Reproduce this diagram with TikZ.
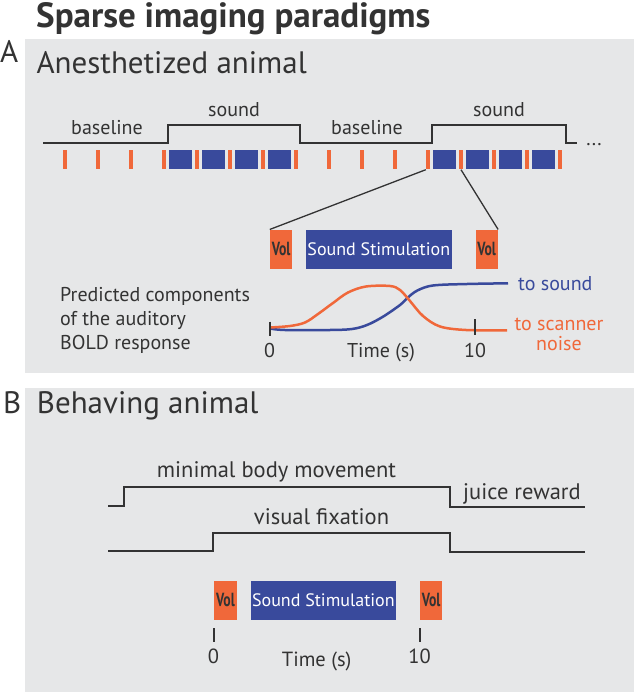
\documentclass[tikz,border=0pt]{standalone}
\usepackage{fontspec}
\setmainfont{PT Sans}
\usetikzlibrary{calc}
\definecolor{boxgray}{RGB}{230,231,232}
\definecolor{ink}{RGB}{51,51,51}
\definecolor{orng}{RGB}{240,104,58}
\definecolor{blu}{RGB}{57,74,156}
\newcommand\fsz[2]{\fontsize{#1}{#2}\selectfont}
\begin{document}
\begin{tikzpicture}[x=1pt,y=-1pt,
  txt/.style={inner sep=0, text=ink},
  t20/.style={txt, font=\fsz{20}{24}},
  t22/.style={txt, font=\fsz{22.5}{27}},
  head/.style={txt, font=\fsz{31}{36}},
  trace/.style={draw=ink, line width=2pt},
  zoomline/.style={draw=ink, line width=1.3pt},
  tickmark/.style={fill=orng, inner sep=0, minimum width=4pt, minimum height=19.5pt},
  blk/.style={fill=blu, inner sep=0, minimum width=23pt, minimum height=19.5pt},
  volbox/.style={fill=orng, inner sep=0, minimum width=22.4pt, minimum height=39.5pt, text=ink, font=\fsz{19}{21}\bfseries},
  stimbox/.style={fill=blu, inner sep=0, minimum width=145.5pt, minimum height=39.5pt, text=white, font=\fsz{18}{21}},
  axtick/.style={draw=ink, line width=2pt},
  curveO/.style={draw=orng, line width=2.5pt},
  curveB/.style={draw=blu, line width=2.5pt}
]
\useasboundingbox (0,0) rectangle (634,692);
\fill[white] (0,0) rectangle (634,692);
\fill[boxgray] (25,39) rectangle (634,372.7);
\fill[boxgray] (25,388.3) rectangle (634,692);

% titles
\node[txt, anchor=base west, font=\fsz{35}{40}\bfseries] (title) at (36,28) {Sparse imaging paradigms};
\node[head, anchor=base west] (labA) at (0,63) {A};
\node[head, anchor=base west] (headA) at (36.4,74) {Anesthetized animal};
\node[head, anchor=base west] (labB) at (3,413) {B};
\node[head, anchor=base west] (headB) at (36.7,413) {Behaving animal};

% panel A timeline
\draw[trace] (43,143.3) -- (168,143.3) -- (168,125) -- (300,125) -- (300,143.3)
  -- (432,143.3) -- (432,125) -- (566,125) -- (566,143.3) -- (577,143.3);
\node[t20, anchor=base] (dots) at (594,145.5) {...};
\node[t20, anchor=base] (bl1) at (107,135) {baseline};
\node[t20, anchor=base] (snd1) at (234,117) {sound};
\node[t20, anchor=base] (bl2) at (367,135) {baseline};
\node[t20, anchor=base] (snd2) at (499,117) {sound};

\foreach \k in {0,...,15}{
  \node[tickmark] (t\k) at ({65+33*\k},159.75) {};
}
\foreach \k in {3,...,6,11,12,13,14}{
  \node[blk] (b\k) at ({81.5+33*\k},159.75) {};
}

% zoomed trial
\node[volbox] (vol1) at (281.2,249.4) {\scalebox{0.72}[1]{Vol}};
\node[stimbox] (stim1) at (378.8,249.6) {Sound Stimulation};
\node[volbox] (vol2) at (486.7,249.4) {\scalebox{0.72}[1]{Vol}};
\draw[zoomline] (t11.south west) -- (vol1.north west);
\draw[zoomline] (t12.south) -- (vol2.north east);

% predicted responses
\node[t20, anchor=base west] (p1) at (60,301.7) {Predicted components};
\node[t20, anchor=base west] (p2) at (60,325.3) {of the auditory};
\node[t20, anchor=base west] (p3) at (60,349) {BOLD response};

\draw[curveB] plot[smooth, tension=0.55] coordinates {(270,328.5) (285,330) (330,330) (352,329) (367,325) (383,316.7) (400,305) (407,298.3) (417,290.7) (433,285.5) (467,284) (508,283.3)};
\draw[curveO] plot[smooth, tension=0.55] coordinates {(270,327.5) (290,326) (305,322.5) (318,314) (333,303) (348,292.5) (366,286.5) (390,286) (400,290) (410,301) (423,316) (440,326.5) (466,330) (507,330.3)};

\coordinate (a0top) at (269.5,321.5);
\coordinate (a0bot) at (269.5,336);
\draw[axtick] (a0top) -- (a0bot);
\coordinate (a10top) at (475,319);
\coordinate (a10bot) at (475,335);
\draw[axtick] (a10top) -- (a10bot);
\node[t20, anchor=base] (z0) at (269.5,357) {0};
\node[t20, anchor=base] (tA) at (381,357) {Time (s)};
\node[t20, anchor=base] (z10) at (475,357) {10};
\node[t20, anchor=base west, text=blu] (tosnd) at (518,290) {to sound};
\node[t20, anchor=base, text=orng] (toscn) at (559,330) {to scanner};
\node[t20, anchor=base, text=orng] (noise) at (559,350) {noise};

% panel B
\draw[trace] (108,505.8) -- (124,505.8) -- (124,486.7) -- (450,486.7) -- (450,506.5) -- (585,506.5);
\draw[trace] (108,550.5) -- (213,550.5) -- (213,532.6) -- (450,532.6) -- (450,551.5) -- (585,551.5);
\node[t22, anchor=base] (mbm) at (276.5,477) {minimal body movement};
\node[t22, anchor=base west] (juice) at (463,499.5) {juice reward};
\node[t22, anchor=base] (vfx) at (321.5,524) {visual fixation};

\node[volbox] (vol3) at (225.5,600.4) {\scalebox{0.72}[1]{Vol}};
\node[stimbox] (stim2) at (323.4,600.4) {Sound Stimulation};
\node[volbox] (vol4) at (431.2,600.4) {\scalebox{0.72}[1]{Vol}};

\coordinate (b0top) at (213.5,628);
\coordinate (b0bot) at (213.5,642);
\draw[axtick] (b0top) -- (b0bot);
\coordinate (b10top) at (419.5,628);
\coordinate (b10bot) at (419.5,642);
\draw[axtick] (b10top) -- (b10bot);
\node[t20, anchor=base, font=\fsz{20.5}{24}] (zb0) at (213.5,663) {0};
\node[t20, anchor=base, font=\fsz{20.5}{24}] (tB) at (316.7,666) {Time (s)};
\node[t20, anchor=base, font=\fsz{20.5}{24}] (zb10) at (419.5,663) {10};
\end{tikzpicture}
\end{document}
